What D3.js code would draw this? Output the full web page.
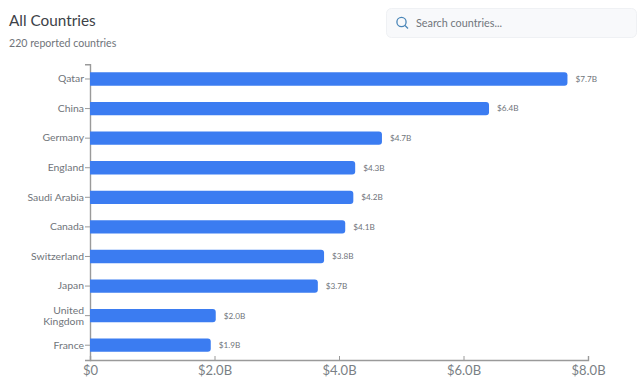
<!DOCTYPE html>
<html>
<head>
<meta charset="utf-8">
<script src="https://cdn.jsdelivr.net/npm/d3@7"></script>
<style>
  html, body { margin: 0; padding: 0; background: #fff; }
  text { font-family: "Lato", sans-serif; }
</style>
</head>
<body>
<div id="chart"></div>
<script>
var w = 640
var h = 389

var countries = ["Qatar", "China", "Germany", "England", "Saudi Arabia", "Canada", "Switzerland", "Japan", "United Kingdom", "France"];
// billions of dollars
var values = [7.67, 6.41, 4.69, 4.26, 4.23, 4.10, 3.76, 3.66, 2.02, 1.94];
var xTicks = [0, 2, 4, 6, 8];
var xTickLabels = ["$0", "$2.0B", "$4.0B", "$6.0B", "$8.0B"];

var svg = d3.select("#chart").append("svg")
    .attr("width", w)
    .attr("height", h)
    .style("display", "block");

var x = d3.scaleLinear().domain([0, 8]).range([90, 588]);
var y = d3.scaleBand().domain(countries).range([64.2, 360]).paddingInner(0.55).paddingOuter(0.275);

// header
svg.append("text")
    .attr("x", 9)
    .attr("y", 26)
    .style("font-size", "15.3px")
    .style("fill", "#3d4248")
    .text("All Countries");

svg.append("text")
    .attr("x", 9)
    .attr("y", 47)
    .style("font-size", "10.6px")
    .style("fill", "#6f747a")
    .text("220 reported countries");

// search box
svg.append("rect")
    .attr("x", 386.5)
    .attr("y", 8.5)
    .attr("width", 250)
    .attr("height", 29)
    .attr("rx", 5)
    .style("fill", "#f8f9fb")
    .style("stroke", "#eff1f4");

svg.append("circle")
    .attr("cx", 401.5)
    .attr("cy", 22)
    .attr("r", 4.6)
    .style("fill", "none")
    .style("stroke", "#4a86b8")
    .style("stroke-width", 1.3);

svg.append("line")
    .attr("x1", 405)
    .attr("y1", 25.5)
    .attr("x2", 408)
    .attr("y2", 28.5)
    .style("stroke", "#4a86b8")
    .style("stroke-width", 1.3);

svg.append("text")
    .attr("x", 416)
    .attr("y", 27)
    .style("font-size", "10.8px")
    .style("fill", "#71767c")
    .text("Search countries...");

// axes
var axisColor = "#9a9a9a";

var xAxis = svg.append("g")
    .attr("transform", "translate(0,360)")
    .call(d3.axisBottom(x).tickValues(xTicks).tickSize(-4).tickPadding(6).tickFormat(function(d, i) { return xTickLabels[i]; }));

var yAxis = svg.append("g")
    .attr("transform", "translate(90,0)")
    .call(d3.axisLeft(y).tickSize(5).tickPadding(1));

xAxis.selectAll("path, line").style("stroke", axisColor);
yAxis.selectAll("path, line").style("stroke", axisColor);
xAxis.select(".domain").style("stroke-width", 1.4);
yAxis.select(".domain").style("stroke-width", 1.4);

xAxis.selectAll("text")
    .style("font-family", "Lato, sans-serif")
    .style("font-size", "13px")
    .style("fill", "#7a7f85");

yAxis.selectAll("text")
    .style("font-family", "Lato, sans-serif")
    .style("font-size", "10.4px")
    .style("fill", "#6f747a")
    .each(function(d) {
        // long names wrap onto two lines
        var words = d.split(" ");
        if (d.length < 13) return;
        var t = d3.select(this).text(null);
        words.forEach(function(word, i) {
            t.append("tspan")
                .attr("x", -6)
                .attr("dy", i == 0 ? "-0.2em" : "1.1em")
                .text(word);
        });
    });

// bars, square on the axis and rounded at the far end
function barPath(d, i) {
    var x0 = x(0);
    var x1 = x(d);
    var y0 = y(countries[i]);
    var y1 = y0 + y.bandwidth();
    var r = 3;
    return "M" + x0 + "," + y0 + "H" + (x1 - r) + "Q" + x1 + "," + y0 + " " + x1 + "," + (y0 + r)
        + "V" + (y1 - r) + "Q" + x1 + "," + y1 + " " + (x1 - r) + "," + y1 + "H" + x0 + "Z";
}

svg.selectAll(".bar").data(values).enter()
    .append("path")
    .attr("class", "bar")
    .attr("d", barPath)
    .style("fill", "#3b7cf1");

svg.selectAll(".barLabel").data(values).enter()
    .append("text")
    .attr("class", "barLabel")
    .attr("x", function(d) { return x(d) + 8; })
    .attr("y", function(d, i) { return y(countries[i]) + y.bandwidth() / 2; })
    .attr("dy", ".35em")
    .style("font-size", "8.2px")
    .style("fill", "#6f747a")
    .text(function(d) { return "$" + d3.format(".1f")(d) + "B"; });
</script>
</body>
</html>
